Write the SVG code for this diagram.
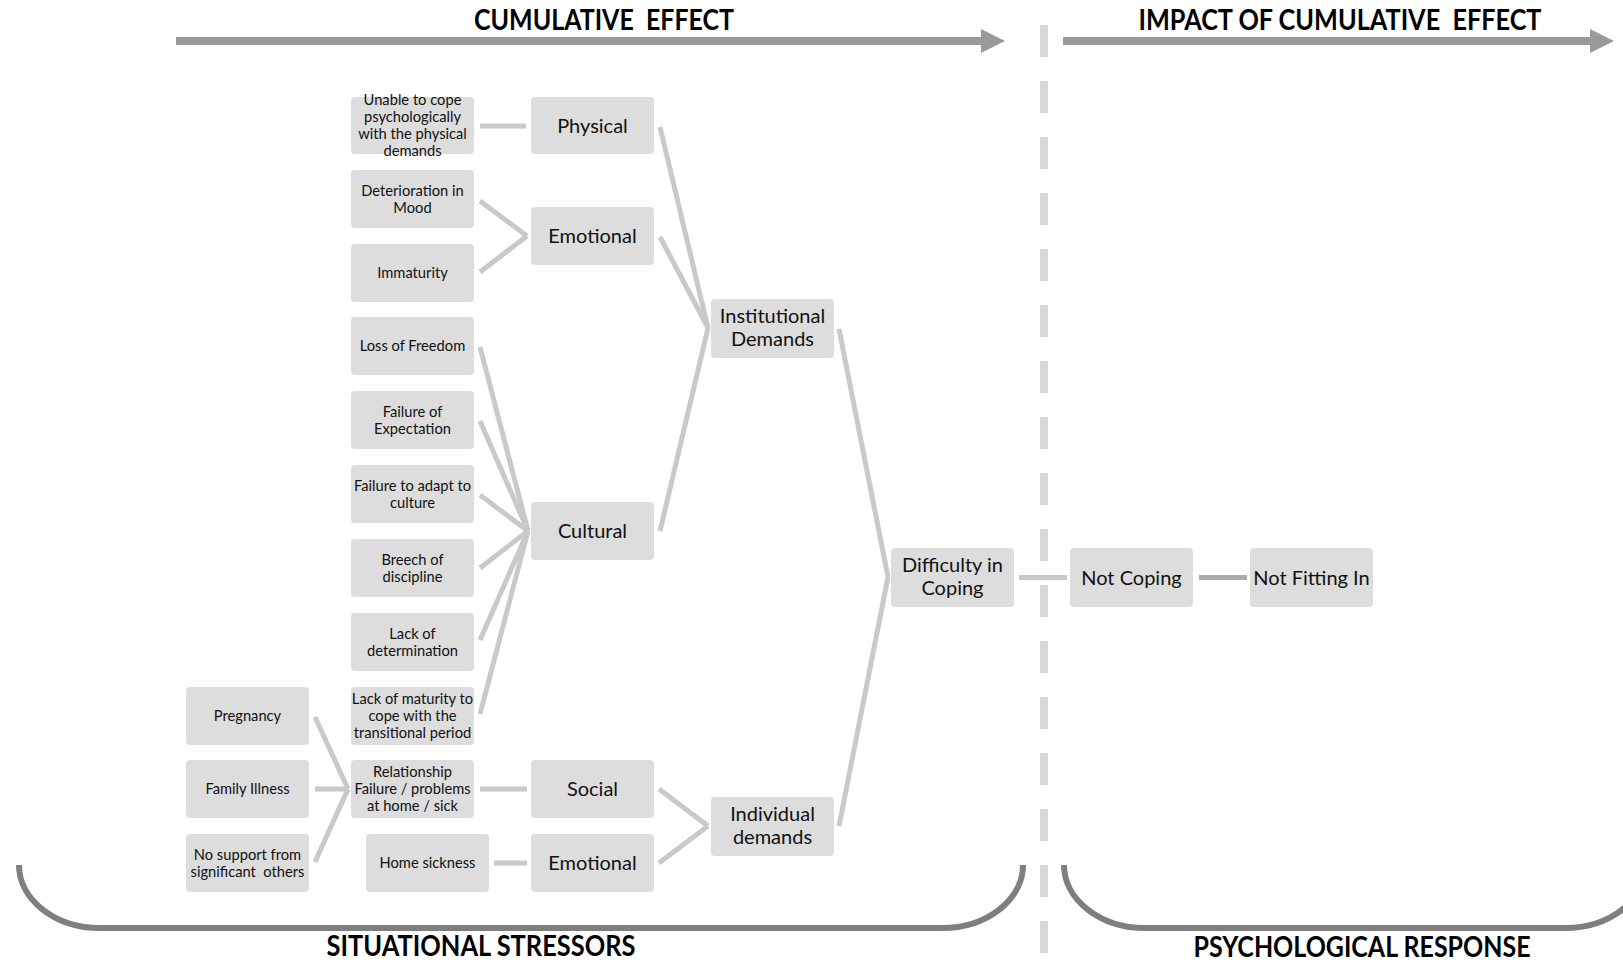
<svg xmlns="http://www.w3.org/2000/svg" width="1623" height="963" viewBox="0 0 1623 963">
  <style>
    .box { fill: #dddddd; }
    .sm { font-family: Lato, "Liberation Sans", sans-serif; font-size: 14.7px; fill: #111; text-anchor: middle; white-space: pre; }
    .lg { font-family: Lato, "Liberation Sans", sans-serif; font-size: 20px; fill: #111; text-anchor: middle; }
    .head { font-family: Lato, "Liberation Sans", sans-serif; font-weight: bold; font-size: 28px; fill: #000; text-anchor: middle; white-space: pre; }
    .link { stroke: #c9c9c9; stroke-width: 5; fill: none; }
    .link2 { stroke: #ababab; stroke-width: 5; fill: none; }
    .arrow { stroke: #9a9a9a; stroke-width: 8; fill: none; }
    .brace { stroke: #7f7f7f; stroke-width: 6; fill: none; }
  </style>
  <defs>
    <marker id="head" viewBox="0 0 24 24" refX="0" refY="12" markerWidth="24" markerHeight="24" markerUnits="userSpaceOnUse" orient="auto">
      <path d="M0 0 L24 12 L0 24 Z" fill="#9a9a9a"/>
    </marker>
  </defs>

  <!-- headings and direction arrows -->
  <g id="headings">
    <text class="head" xml:space="preserve" x="604" y="30" textLength="260" lengthAdjust="spacingAndGlyphs">CUMULATIVE  EFFECT</text>
    <text class="head" xml:space="preserve" x="1340" y="30" textLength="403" lengthAdjust="spacingAndGlyphs">IMPACT OF CUMULATIVE  EFFECT</text>
    <line class="arrow" x1="176" y1="41" x2="981" y2="41" marker-end="url(#head)"/>
    <line class="arrow" x1="1063" y1="41" x2="1590" y2="41" marker-end="url(#head)"/>
    <text class="head" x="481" y="956" textLength="309" lengthAdjust="spacingAndGlyphs">SITUATIONAL STRESSORS</text>
    <text class="head" x="1362" y="957" textLength="337" lengthAdjust="spacingAndGlyphs">PSYCHOLOGICAL RESPONSE</text>
  </g>

  <!-- divider and brackets -->
  <g id="frame">
    <line x1="1044" y1="25" x2="1044" y2="953" stroke="#d9d9d9" stroke-width="8" stroke-dasharray="32 24"/>
    <path class="brace" d="M19 865 A81 63 0 0 0 100 928 L942 928 A81 63 0 0 0 1023 865"/>
    <path class="brace" d="M1064 865 A81 63 0 0 0 1145 928 L1565 928 A81 63 0 0 0 1646 865"/>
  </g>

  <!-- connectors -->
  <g id="connectors">
    <line class="link" x1="480" y1="126" x2="526" y2="126"/>
    <line class="link" x1="480" y1="201" x2="527" y2="236"/>
    <line class="link" x1="480" y1="272" x2="527" y2="236"/>
    <line class="link" x1="660" y1="127" x2="708" y2="328"/>
    <line class="link" x1="660" y1="237" x2="708" y2="328"/>
    <line class="link" x1="660" y1="531" x2="708" y2="328"/>
    <line class="link" x1="480" y1="347" x2="528" y2="531"/>
    <line class="link" x1="480" y1="421" x2="528" y2="531"/>
    <line class="link" x1="480" y1="495" x2="528" y2="531"/>
    <line class="link" x1="480" y1="568" x2="528" y2="531"/>
    <line class="link" x1="480" y1="640" x2="528" y2="531"/>
    <line class="link" x1="480" y1="714" x2="528" y2="531"/>
    <line class="link" x1="315" y1="717" x2="348" y2="789"/>
    <line class="link" x1="315" y1="789" x2="348" y2="789"/>
    <line class="link" x1="315" y1="862" x2="348" y2="789"/>
    <line class="link" x1="480" y1="789" x2="527" y2="789"/>
    <line class="link" x1="494" y1="863" x2="527" y2="863"/>
    <line class="link" x1="659" y1="789" x2="708" y2="826"/>
    <line class="link" x1="659" y1="863" x2="708" y2="826"/>
    <line class="link" x1="839" y1="329" x2="888" y2="577"/>
    <line class="link" x1="839" y1="826" x2="888" y2="577"/>
    <line class="link" x1="1019" y1="577.5" x2="1067" y2="577.5"/>
    <line class="link2" x1="1199" y1="577.5" x2="1247" y2="577.5"/>
  </g>

  <!-- stressor nodes -->
  <g id="n-unable"><rect class="box" x="351" y="97" width="123" height="57" rx="4"/>
    <text class="sm" x="412.5" y="105">Unable to cope</text>
    <text class="sm" x="412.5" y="122">psychologically</text>
    <text class="sm" x="412.5" y="139">with the physical</text>
    <text class="sm" x="412.5" y="156">demands</text></g>
  <g id="n-physical"><rect class="box" x="531" y="97" width="123" height="57" rx="4"/>
    <text class="lg" x="592.5" y="132.5">Physical</text></g>
  <g id="n-deterioration"><rect class="box" x="351" y="170" width="123" height="58" rx="4"/>
    <text class="sm" x="412.5" y="195.5">Deterioration in</text>
    <text class="sm" x="412.5" y="212.5">Mood</text></g>
  <g id="n-immaturity"><rect class="box" x="351" y="244" width="123" height="58" rx="4"/>
    <text class="sm" x="412.5" y="278">Immaturity</text></g>
  <g id="n-emotional-1"><rect class="box" x="531" y="207" width="123" height="58" rx="4"/>
    <text class="lg" x="592.5" y="243">Emotional</text></g>
  <g id="n-loss"><rect class="box" x="351" y="317" width="123" height="58" rx="4"/>
    <text class="sm" x="412.5" y="351">Loss of Freedom</text></g>
  <g id="n-expectation"><rect class="box" x="351" y="391" width="123" height="58" rx="4"/>
    <text class="sm" x="412.5" y="416.5">Failure of</text>
    <text class="sm" x="412.5" y="433.5">Expectation</text></g>
  <g id="n-adapt"><rect class="box" x="351" y="465" width="123" height="58" rx="4"/>
    <text class="sm" x="412.5" y="490.5">Failure to adapt to</text>
    <text class="sm" x="412.5" y="507.5">culture</text></g>
  <g id="n-breech"><rect class="box" x="351" y="539" width="123" height="58" rx="4"/>
    <text class="sm" x="412.5" y="564.5">Breech of</text>
    <text class="sm" x="412.5" y="581.5">discipline</text></g>
  <g id="n-determination"><rect class="box" x="351" y="613" width="123" height="58" rx="4"/>
    <text class="sm" x="412.5" y="638.5">Lack of</text>
    <text class="sm" x="412.5" y="655.5">determination</text></g>
  <g id="n-maturity"><rect class="box" x="351" y="687" width="123" height="58" rx="4"/>
    <text class="sm" x="412.5" y="704">Lack of maturity to</text>
    <text class="sm" x="412.5" y="721">cope with the</text>
    <text class="sm" x="412.5" y="738">transitional period</text></g>
  <g id="n-cultural"><rect class="box" x="531" y="502" width="123" height="58" rx="4"/>
    <text class="lg" x="592.5" y="538">Cultural</text></g>
  <g id="n-pregnancy"><rect class="box" x="186" y="687" width="123" height="58" rx="4"/>
    <text class="sm" x="247.5" y="721">Pregnancy</text></g>
  <g id="n-family"><rect class="box" x="186" y="760" width="123" height="58" rx="4"/>
    <text class="sm" x="247.5" y="794">Family Illness</text></g>
  <g id="n-nosupport"><rect class="box" x="186" y="834" width="123" height="58" rx="4"/>
    <text class="sm" x="247.5" y="859.5">No support from</text>
    <text class="sm" xml:space="preserve" x="247.5" y="876.5">significant  others</text></g>
  <g id="n-relationship"><rect class="box" x="351" y="760" width="123" height="58" rx="4"/>
    <text class="sm" x="412.5" y="777">Relationship</text>
    <text class="sm" x="412.5" y="794">Failure / problems</text>
    <text class="sm" x="412.5" y="811">at home / sick</text></g>
  <g id="n-social"><rect class="box" x="531" y="760" width="123" height="58" rx="4"/>
    <text class="lg" x="592.5" y="796">Social</text></g>
  <g id="n-homesick"><rect class="box" x="366" y="834" width="123" height="58" rx="4"/>
    <text class="sm" x="427.5" y="868">Home sickness</text></g>
  <g id="n-emotional-2"><rect class="box" x="531" y="834" width="123" height="58" rx="4"/>
    <text class="lg" x="592.5" y="870">Emotional</text></g>

  <!-- aggregate nodes -->
  <g id="n-institutional"><rect class="box" x="711" y="299" width="123" height="59" rx="4"/>
    <text class="lg" x="772.5" y="323">Institutional</text>
    <text class="lg" x="772.5" y="346">Demands</text></g>
  <g id="n-individual"><rect class="box" x="711" y="797" width="123" height="59" rx="4"/>
    <text class="lg" x="772.5" y="821">Individual</text>
    <text class="lg" x="772.5" y="844">demands</text></g>
  <g id="n-difficulty"><rect class="box" x="891" y="548" width="123" height="59" rx="4"/>
    <text class="lg" x="952.5" y="572">Difficulty in</text>
    <text class="lg" x="952.5" y="595">Coping</text></g>

  <!-- response nodes -->
  <g id="n-notcoping"><rect class="box" x="1070" y="548" width="123" height="59" rx="4"/>
    <text class="lg" x="1131.5" y="584.5">Not Coping</text></g>
  <g id="n-notfitting"><rect class="box" x="1250" y="548" width="123" height="59" rx="4"/>
    <text class="lg" x="1311.5" y="584.5">Not Fitting In</text></g>
</svg>
